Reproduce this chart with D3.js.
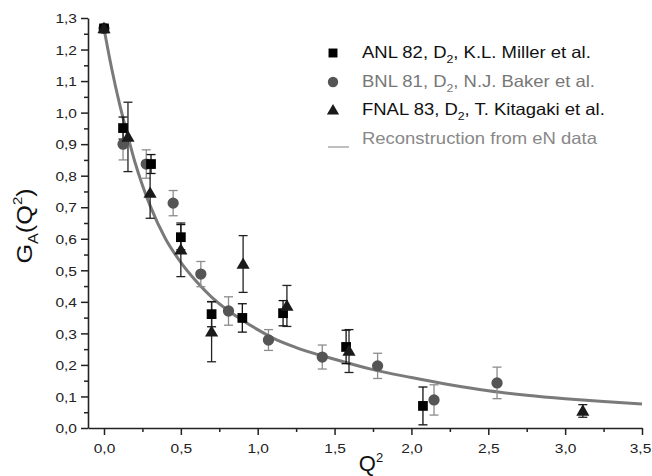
<!DOCTYPE html>
<html>
<head>
<meta charset="utf-8">
<script src="https://cdn.jsdelivr.net/npm/d3@7"></script>
<style>
  html, body { margin: 0; padding: 0; background: #fff; }
  svg { display: block; font-family: "Liberation Sans", Arial, sans-serif; }
</style>
</head>
<body>
<svg id="chart" width="652" height="476"></svg>
<script>
// ---------------- DATA ----------------
const xTickValues = [0, 0.5, 1.0, 1.5, 2.0, 2.5, 3.0, 3.5];
const xTickLabels = ["0,0", "0,5", "1,0", "1,5", "2,0", "2,5", "3,0", "3,5"];
const xMinorValues = [0.25, 0.75, 1.25, 1.75, 2.25, 2.75, 3.25];
const yTickValues = [0, 0.1, 0.2, 0.3, 0.4, 0.5, 0.6, 0.7, 0.8, 0.9, 1.0, 1.1, 1.2, 1.3];
const yTickLabels = ["0,0", "0,1", "0,2", "0,3", "0,4", "0,5", "0,6", "0,7", "0,8", "0,9", "1,0", "1,1", "1,2", "1,3"];
const yMinorValues = [0.05, 0.15, 0.25, 0.35, 0.45, 0.55, 0.65, 0.75, 0.85, 0.95, 1.05, 1.15, 1.25];

// ANL 82 (squares)
const anlQ2  = [0, 0.124, 0.306, 0.50, 0.70, 0.90, 1.165, 1.575, 2.075];
const anlGA  = [1.267, 0.951, 0.837, 0.605, 0.361, 0.349, 0.364, 0.257, 0.070];
const anlErr = [0, 0.035, 0.03, 0.04, 0.04, 0.045, 0.04, 0.053, 0.06];

// BNL 81 (circles)
const bnlQ2  = [0, 0.124, 0.275, 0.45, 0.63, 0.81, 1.07, 1.42, 1.78, 2.147, 2.557];
const bnlGA  = [1.267, 0.90, 0.837, 0.713, 0.488, 0.371, 0.279, 0.225, 0.197, 0.089, 0.143];
const bnlErr = [0, 0.05, 0.045, 0.04, 0.04, 0.045, 0.033, 0.038, 0.04, 0.048, 0.05];

// FNAL 83 (triangles)
const fnalQ2  = [0, 0.156, 0.30, 0.50, 0.70, 0.905, 1.19, 1.594, 3.115];
const fnalGA  = [1.267, 0.923, 0.745, 0.565, 0.305, 0.52, 0.387, 0.244, 0.054];
const fnalErr = [0, 0.11, 0.08, 0.085, 0.095, 0.09, 0.065, 0.068, 0.02];

// Reconstruction from eN data (curve)
const curveQ2 = [0, 0.05, 0.10, 0.15, 0.20, 0.25, 0.30, 0.40, 0.50, 0.60, 0.70, 0.80, 0.90, 1.00, 1.10, 1.25, 1.50, 1.75, 2.00, 2.25, 2.50, 2.75, 3.00, 3.25, 3.50];
const curveGA = [1.267, 1.14, 1.03, 0.935, 0.845, 0.77, 0.705, 0.60, 0.525, 0.465, 0.415, 0.375, 0.342, 0.312, 0.285, 0.255, 0.218, 0.185, 0.16, 0.137, 0.118, 0.104, 0.093, 0.084, 0.076];

const legendLabels = [
  ["ANL 82, D", "2", ", K.L. Miller et al."],
  ["BNL 81, D", "2", ", N.J. Baker et al."],
  ["FNAL 83, D", "2", ", T. Kitagaki et al."],
  ["Reconstruction from eN data", "", ""]
];

// ---------------- CHART ----------------
const svg = d3.select("#chart");
const x = d3.scaleLinear().domain([-0.104, 3.5]).range([88, 642]);
const y = d3.scaleLinear().domain([0, 1.3]).range([428, 18]);

const axisColor = "#222";
const SX = 1.15; // horizontal text stretch

// X axis: minor ticks
svg.append("g").attr("transform", `translate(0,${y(0)})`)
  .call(d3.axisBottom(x).tickValues(xMinorValues).tickSize(4).tickSizeOuter(0).tickFormat(""))
  .call(g => g.select(".domain").remove());
// X axis: major ticks
const gx = svg.append("g").attr("transform", `translate(0,${y(0)})`)
  .call(d3.axisBottom(x).tickValues(xTickValues).tickSize(7).tickSizeOuter(0)
    .tickFormat((d, i) => xTickLabels[i]));
// Y axis: minor ticks
svg.append("g").attr("transform", `translate(${x.range()[0]},0)`)
  .call(d3.axisLeft(y).tickValues(yMinorValues).tickSize(4).tickSizeOuter(0).tickFormat(""))
  .call(g => g.select(".domain").remove());
// Y axis: major ticks
const gy = svg.append("g").attr("transform", `translate(${x.range()[0]},0)`)
  .call(d3.axisLeft(y).tickValues(yTickValues).tickSize(7).tickSizeOuter(0)
    .tickFormat((d, i) => yTickLabels[i]));

svg.selectAll(".tick line").attr("stroke", axisColor).attr("stroke-width", 1.5);
svg.selectAll(".domain").attr("stroke", axisColor).attr("stroke-width", 1.6);

gx.selectAll(".tick text")
  .attr("font-size", 13.5).attr("fill", "#222").attr("font-family", "Liberation Sans, Arial, sans-serif")
  .attr("dy", null).attr("y", null)
  .attr("transform", (d, i) => `translate(${i === xTickValues.length - 1 ? -2 : 0},25) scale(${SX},1)`);
gy.selectAll(".tick text")
  .attr("font-size", 13.5).attr("fill", "#222").attr("font-family", "Liberation Sans, Arial, sans-serif")
  .attr("x", null).attr("dy", "0.35em")
  .attr("transform", `translate(-11,0) scale(${SX},1)`);

// Reconstruction curve
const line = d3.line().x(d => x(d[0])).y(d => y(d[1])).curve(d3.curveMonotoneX);
svg.append("path")
  .datum(curveQ2.map((q, i) => [q, curveGA[i]]))
  .attr("d", line)
  .attr("fill", "none").attr("stroke", "#7a7a7a").attr("stroke-width", 3);

function errorBars(q, g, e, color) {
  const data = q.map((v, i) => ({ q: v, g: g[i], e: e[i] })).filter(d => d.e > 0);
  const gg = svg.append("g").attr("stroke", color).attr("stroke-width", 1.3).attr("fill", "none");
  gg.selectAll("line.v").data(data).join("line")
    .attr("x1", d => x(d.q)).attr("x2", d => x(d.q))
    .attr("y1", d => y(d.g + d.e)).attr("y2", d => y(d.g - d.e));
  gg.selectAll("line.t").data(data).join("line")
    .attr("x1", d => x(d.q) - 4.5).attr("x2", d => x(d.q) + 4.5)
    .attr("y1", d => y(d.g + d.e)).attr("y2", d => y(d.g + d.e));
  gg.selectAll("line.b").data(data).join("line")
    .attr("x1", d => x(d.q) - 4.5).attr("x2", d => x(d.q) + 4.5)
    .attr("y1", d => y(d.g - d.e)).attr("y2", d => y(d.g - d.e));
}

errorBars(bnlQ2, bnlGA, bnlErr, "#8c8c8c");
errorBars(anlQ2, anlGA, anlErr, "#111");
errorBars(fnalQ2, fnalGA, fnalErr, "#222");

const sqSym = d3.symbol(d3.symbolSquare, 95);
const ciSym = d3.symbol(d3.symbolCircle, 100);
const trSym = d3.symbol(d3.symbolTriangle, 75);

svg.append("g").selectAll("path").data(bnlQ2.map((q, i) => [q, bnlGA[i]])).join("path")
  .attr("d", ciSym).attr("transform", d => `translate(${x(d[0])},${y(d[1])})`).attr("fill", "#555");
svg.append("g").selectAll("path").data(anlQ2.map((q, i) => [q, anlGA[i]])).join("path")
  .attr("d", sqSym).attr("transform", d => `translate(${x(d[0])},${y(d[1])})`).attr("fill", "#000");
svg.append("g").selectAll("path").data(fnalQ2.map((q, i) => [q, fnalGA[i]])).join("path")
  .attr("d", trSym).attr("transform", d => `translate(${x(d[0])},${y(d[1]) + 1})`).attr("fill", "#1a1a1a");

// Legend
const legendColors = ["#111", "#777", "#111", "#888"];
const legendY = [53, 82, 110, 139];
const lg = svg.append("g");
lg.append("path").attr("d", d3.symbol(d3.symbolSquare, 80)).attr("transform", `translate(333,${legendY[0]})`).attr("fill", "#000");
lg.append("path").attr("d", d3.symbol(d3.symbolCircle, 85)).attr("transform", `translate(333,${legendY[1]})`).attr("fill", "#555");
lg.append("path").attr("d", d3.symbol(d3.symbolTriangle, 65)).attr("transform", `translate(333,${legendY[2] + 1})`).attr("fill", "#1a1a1a");
lg.append("line").attr("x1", 328).attr("x2", 349).attr("y1", legendY[3] + 8).attr("y2", legendY[3] + 8)
  .attr("stroke", "#aaa").attr("stroke-width", 1.5);

legendLabels.forEach((parts, i) => {
  const t = lg.append("text")
    .attr("transform", `translate(362,${legendY[i] + 5}) scale(1.12,1)`)
    .attr("font-size", 16.5).attr("fill", legendColors[i]);
  t.append("tspan").text(parts[0]);
  if (parts[1]) {
    t.append("tspan").attr("font-size", 11).attr("dy", 5).text(parts[1]);
    t.append("tspan").attr("dy", -5).text(parts[2]);
  }
});

// Axis titles
const xt = svg.append("text").attr("transform", "translate(371,471)")
  .attr("text-anchor", "middle").attr("font-size", 22).attr("fill", "#111");
xt.append("tspan").text("Q");
xt.append("tspan").attr("font-size", 13).attr("dy", -9).text("2");

const yt = svg.append("text").attr("transform", "translate(32,226) rotate(-90) scale(1.15,1)")
  .attr("text-anchor", "middle").attr("font-size", 22).attr("fill", "#111");
yt.append("tspan").text("G");
yt.append("tspan").attr("font-size", 14).attr("dy", 6).text("A");
yt.append("tspan").attr("dy", -6).text("(Q");
yt.append("tspan").attr("font-size", 13).attr("dy", -10).text("2");
yt.append("tspan").attr("dy", 10).text(")");
</script>
</body>
</html>
